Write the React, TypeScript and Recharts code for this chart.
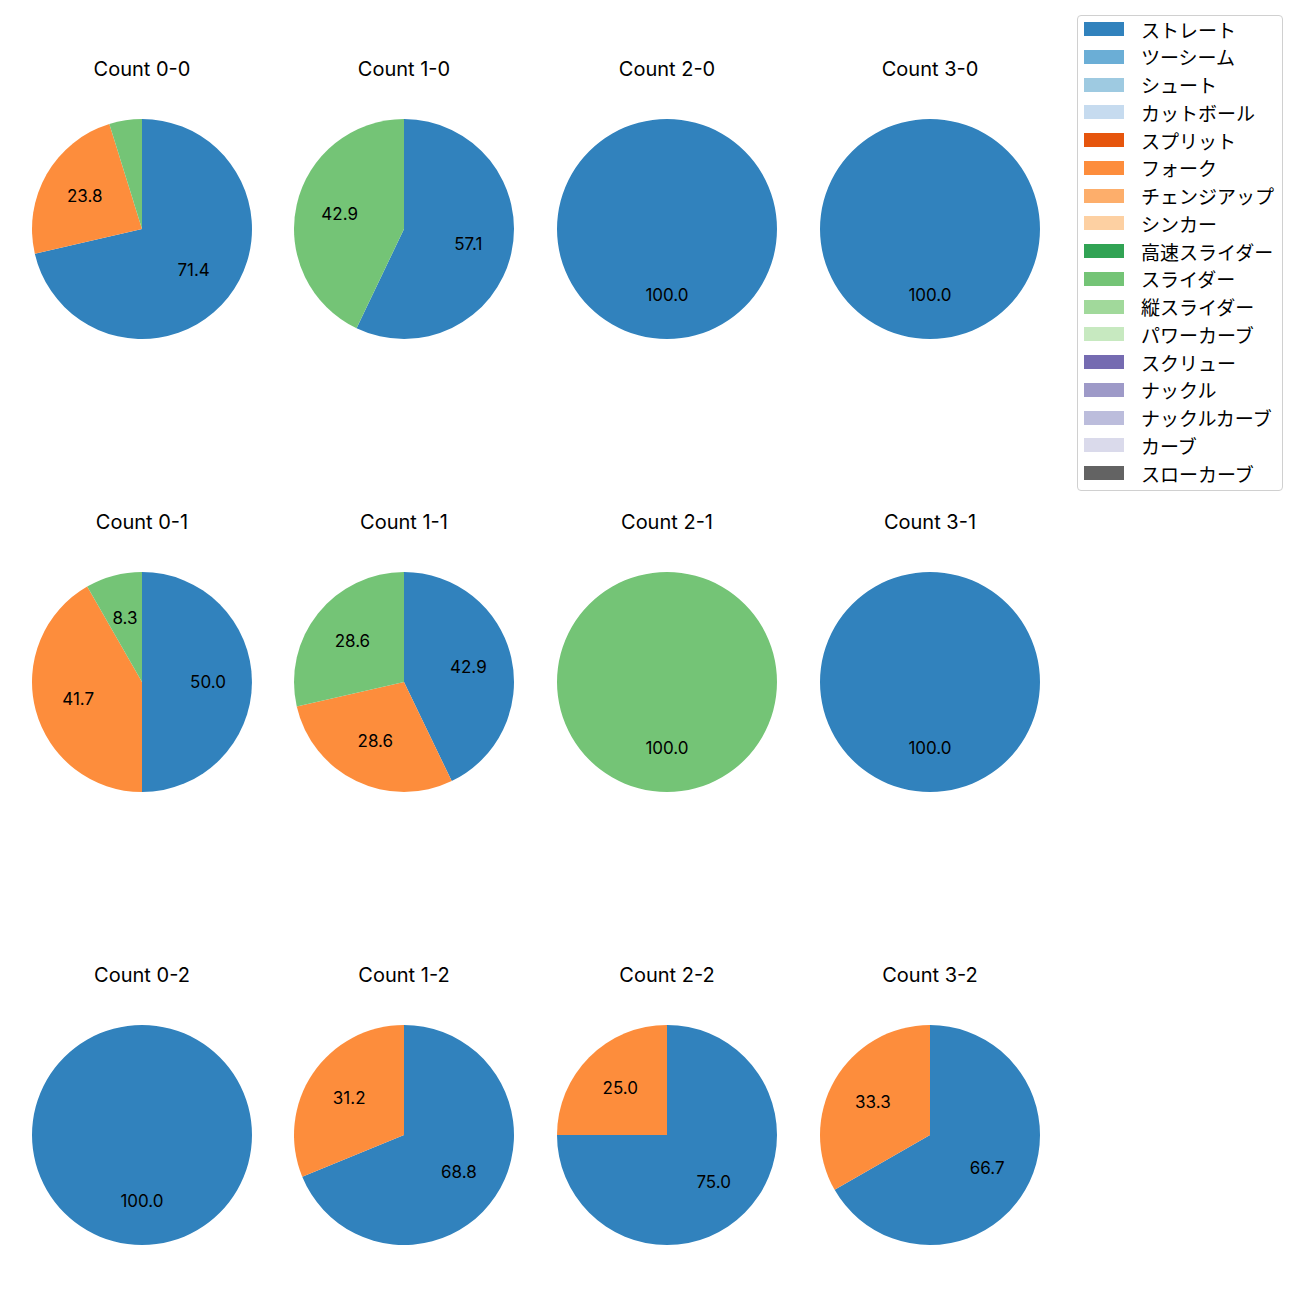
import { PieChart, Pie, Cell } from "recharts";

const counts = ["0-0", "1-0", "2-0", "3-0", "0-1", "1-1", "2-1", "3-1", "0-2", "1-2", "2-2", "3-2"];
const pitchTypes = [
  "ストレート", "ツーシーム", "シュート", "カットボール", "スプリット", "フォーク",
  "チェンジアップ", "シンカー", "高速スライダー", "スライダー", "縦スライダー",
  "パワーカーブ", "スクリュー", "ナックル", "ナックルカーブ", "カーブ", "スローカーブ",
];
const pitchColors = [
  "#3182bd", "#6baed6", "#9ecae1", "#c6dbef", "#e6550d", "#fd8d3c",
  "#fdae6b", "#fdd0a2", "#31a354", "#74c476", "#a1d99b",
  "#c7e9c0", "#756bb1", "#9e9ac8", "#bcbddc", "#dadaeb", "#636363",
];

// share (%) per count, same order as counts
const straight = [71.4, 57.1, 100, 100, 50.0, 42.9, 0, 100, 100, 68.8, 75.0, 66.7];
const fork = [23.8, 0, 0, 0, 41.7, 28.6, 0, 0, 0, 31.2, 25.0, 33.3];
const slider = [4.8, 42.9, 0, 0, 8.3, 28.6, 100, 0, 0, 0, 0, 0];

const colX = [142, 404, 667, 930];
const rowY = [229, 682, 1135];
const R = 110;
const BOX = 240;
const FONT = "Inter, 'Noto Sans CJK JP', sans-serif";
const RAD = Math.PI / 180;

const seriesFor = (i: number) =>
  [
    { name: "ストレート", value: straight[i], color: pitchColors[0] },
    { name: "フォーク", value: fork[i], color: pitchColors[5] },
    { name: "スライダー", value: slider[i], color: pitchColors[9] },
  ].filter((d) => d.value > 0);

// small slices (<5%) get no label, as in the source
const renderLabel = (props: any) => {
  const { cx, cy, midAngle, outerRadius, value } = props;
  if (value < 5) return null;
  const r = outerRadius * 0.6;
  const x = cx + r * Math.cos(-midAngle * RAD);
  const y = cy + r * Math.sin(-midAngle * RAD);
  return (
    <text x={x} y={y} fill="#000" textAnchor="middle" dominantBaseline="central" fontSize={17} fontFamily={FONT}>
      {value.toFixed(1)}
    </text>
  );
};

const CountPie = ({ index }: { index: number }) => {
  const cx = colX[index % 4];
  const cy = rowY[Math.floor(index / 4)];
  const data = seriesFor(index);
  return (
    <>
      <div
        style={{
          position: "absolute",
          left: cx - 100,
          top: cy - 172,
          width: 200,
          height: 24,
          lineHeight: "24px",
          textAlign: "center",
          fontSize: 20,
          fontFamily: FONT,
          color: "#000",
        }}
      >
        Count {counts[index]}
      </div>
      <div style={{ position: "absolute", left: cx - BOX / 2, top: cy - BOX / 2 }}>
        <PieChart width={BOX} height={BOX} margin={{ top: 0, right: 0, bottom: 0, left: 0 }}>
          <Pie
            data={data}
            dataKey="value"
            nameKey="name"
            cx="50%"
            cy="50%"
            outerRadius={R}
            startAngle={90}
            endAngle={-270}
            stroke="none"
            label={renderLabel}
            labelLine={false}
            isAnimationActive={false}
          >
            {data.map((d) => (
              <Cell key={d.name} fill={d.color} />
            ))}
          </Pie>
        </PieChart>
      </div>
    </>
  );
};

const PitchLegend = () => (
  <div
    style={{
      position: "absolute",
      left: 1077,
      top: 15,
      width: 204,
      height: 474,
      border: "1px solid #d0d0d0",
      borderRadius: 4,
      background: "#fff",
      fontFamily: FONT,
      fontSize: 19,
    }}
  >
    {pitchTypes.map((name, i) => (
      <div
        key={name}
        style={{ position: "absolute", left: 6, top: 1 + i * 27.75, height: 24, display: "flex", alignItems: "center" }}
      >
        <div style={{ width: 40, height: 14, background: pitchColors[i] }} />
        <span style={{ marginLeft: 17, color: "#000", whiteSpace: "nowrap" }}>{name}</span>
      </div>
    ))}
  </div>
);

export default function App() {
  return (
    <div style={{ position: "absolute", left: 0, top: 0, width: 1300, height: 1300, background: "#fff" }}>
      {counts.map((c, i) => (
        <CountPie key={c} index={i} />
      ))}
      <PitchLegend />
    </div>
  );
}
